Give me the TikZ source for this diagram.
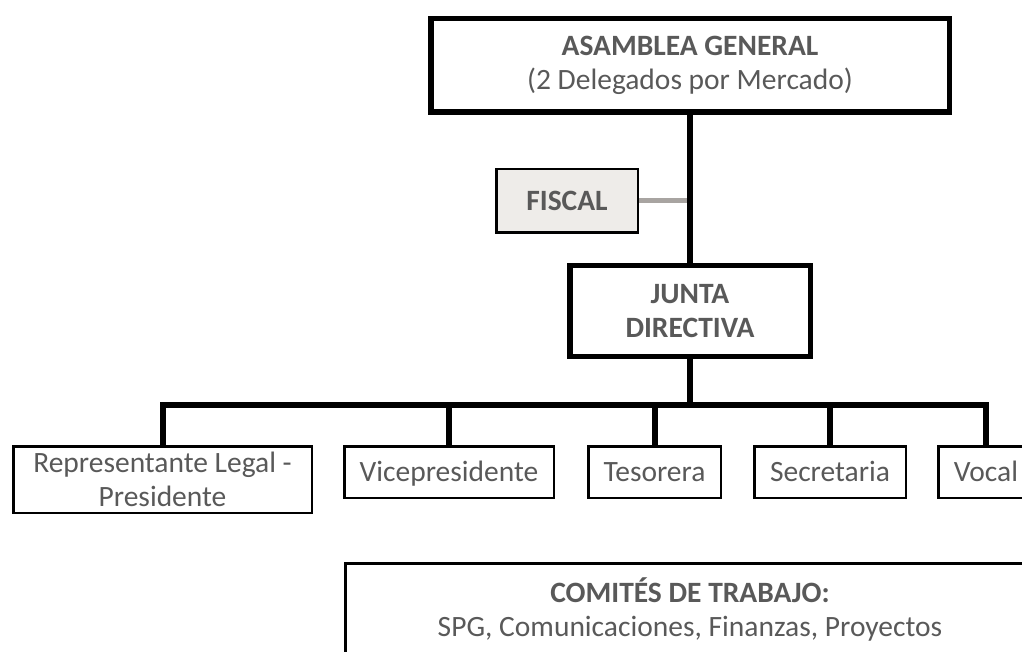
\documentclass[tikz,border=0pt]{standalone}
\usepackage{fontspec}
\setmainfont{Carlito}
\usepackage{tikz}
\definecolor{txtgray}{HTML}{595959}
\definecolor{fiscalfill}{HTML}{EEECE9}
\definecolor{linkgray}{HTML}{A8A4A1}
\newcommand{\orgfont}{\fontsize{29.5}{34}\selectfont}
\tikzset{%
  orgbox/.style   = {shape=rectangle, draw, align=center, text=txtgray,%
                     inner sep=0pt, font=\orgfont},%
  mainbox/.style  = {orgbox, line width=5.5pt},%
  cargo/.style    = {orgbox, line width=2.5pt, minimum height=51.5pt},%
  onecargo/.style = {cargo, text height=21pt, text depth=2pt},%
  fiscalbox/.style= {orgbox, line width=2.5pt, fill=fiscalfill, font=\orgfont\bfseries},%
  conn/.style     = {line width=6pt, line join=miter},%
  sideconn/.style = {line width=5pt, draw=linkgray}%
}
\begin{document}
\begin{tikzpicture}[x=1pt, y=-1pt]%
	\clip (0,0) rectangle (1022,652);%
	\useasboundingbox (0,0) rectangle (1022,652);%
	\node [mainbox, minimum width=518.5pt, minimum height=93.5pt] (asamblea) at (690,65.5)%
		{\textbf{ASAMBLEA GENERAL}\\(2 Delegados por Mercado)};%
	\node [fiscalbox, minimum width=141.5pt, minimum height=63.5pt, text height=21pt, text depth=2pt] (fiscal) at (567,201) {FISCAL};%
	\node [mainbox, minimum width=240.5pt, minimum height=90.5pt, font=\orgfont\bfseries] (junta) at (690,311)%
		{JUNTA\\DIRECTIVA};%
	\coordinate (bar) at (690,405);%
	\node [cargo, minimum width=298.5pt, minimum height=66.5pt] (rep) at (162.5,479.5)%
		{Representante Legal -\\Presidente};%
	\node [onecargo, minimum width=209.5pt] (vice) at (449,472) {Vicepresidente};%
	\node [onecargo, minimum width=132.5pt] (tes) at (654.5,472) {Tesorera};%
	\node [onecargo, minimum width=151.5pt] (sec) at (830,472) {Secretaria};%
	\node [onecargo, minimum width=95.5pt] (vocal) at (986,472) {Vocal};%
	\node [orgbox, line width=3pt, minimum width=690pt, minimum height=92pt] (comites) at (690,609)%
		{\textbf{COMITÉS DE TRABAJO:}\\SPG, Comunicaciones, Finanzas, Proyectos};%
	\draw [conn] (asamblea.south) -- (junta.north);%
	\draw [sideconn] (fiscal.east) -- ([xshift=-3pt]asamblea.south |- fiscal.east);%
	\draw [conn] (junta.south) -- (bar);%
	\draw [conn] (rep.north) |- (bar) -| (vocal.north);%
	\foreach \c in {vice, tes, sec}%
		\draw [conn] (\c.north) -- (\c.north |- bar);%
\end{tikzpicture}
\end{document}
